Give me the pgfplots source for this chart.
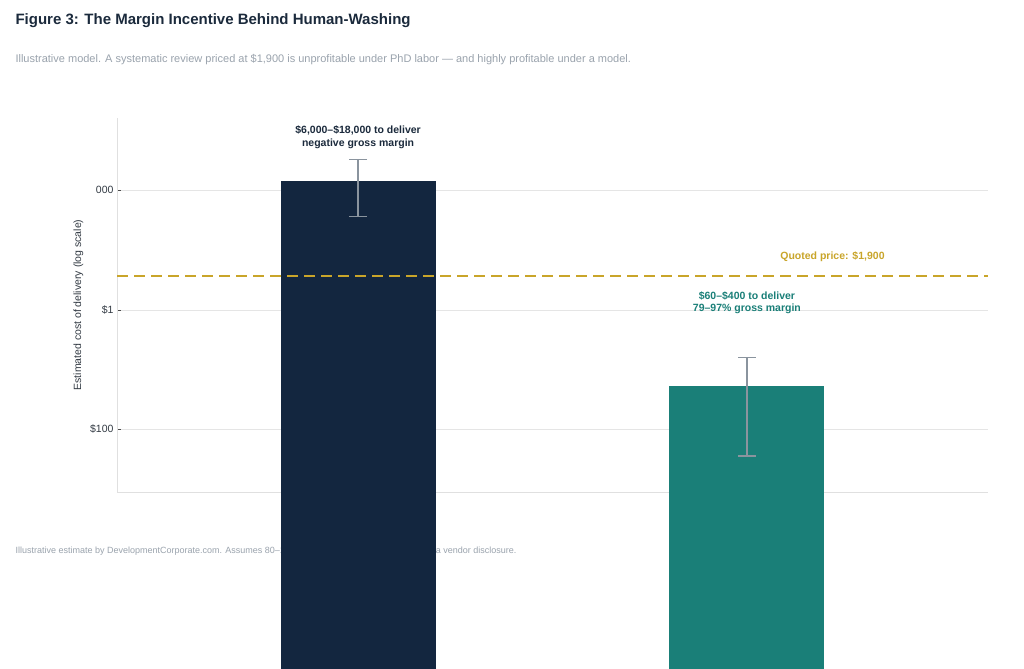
\documentclass[border=0pt]{standalone}
\usepackage{pgfplots}
\pgfplotsset{compat=1.18}
\usepackage{fontspec}
\setmainfont{Liberation Sans}
\definecolor{navy}{HTML}{13263F}
\definecolor{tealc}{HTML}{1A7F78}
\definecolor{gold}{HTML}{C9A52A}
\definecolor{ebar}{HTML}{8A949E}
\definecolor{titlec}{HTML}{1B2A3C}
\definecolor{subc}{HTML}{9AA3AD}
\definecolor{txt}{HTML}{333B44}
\begin{document}
\begin{tikzpicture}
\fill[white] (0pt,0pt) rectangle (1024pt,576pt);
\node[anchor=west,font=\fontsize{15}{18}\selectfont\bfseries,text=titlec] at (12pt,555pt) {Figure 3: The Margin Incentive Behind Human-Washing};
\node[anchor=west,font=\fontsize{11}{13}\selectfont,text=subc] at (12pt,516pt) {Illustrative model. A systematic review priced at \$1,900 is unprofitable under PhD labor — and highly profitable under a model.};
\node[anchor=west,font=\fontsize{9}{11}\selectfont,text=subc] at (12pt,25pt) {Illustrative estimate by DevelopmentCorporate.com. Assumes 80–120 analyst hours at \$75–\$150/hr. Not a vendor disclosure.};
\begin{axis}[at={(117pt,84pt)},anchor=south west,scale only axis,width=871pt,height=374pt,
  ymode=log, ymin=30, ymax=40000, xmin=-0.62, xmax=1.62,
  axis x line*=bottom, axis y line*=left,
  axis line style={draw=black!12},
  xtick={0,1}, xticklabels={Human-delivered\\(PhD methodologist),AI-delivered\\(marketed as human)},
  xticklabel style={align=center,font=\fontsize{10.5}{12}\selectfont,text=txt},
  x tick style={draw=none},
  ytick={100,1000,10000}, yticklabels={\$100,\$1,000,\$10,000},
  yticklabel style={font=\fontsize{10.5}{12}\selectfont,text=txt},
  ymajorgrids, major grid style={draw=black!10},
  y tick style={draw=black!70}, major tick length=4pt, minor tick length=2pt,
  ylabel={Estimated cost of delivery (log scale)},
  ylabel style={font=\fontsize{10.5}{12}\selectfont,text=txt},
  log basis y=10, clip=false]
\addplot[ybar, bar width=155pt, fill=navy, draw=none] coordinates {(0,12000)};
\addplot[ybar, bar width=155pt, fill=tealc, draw=none] coordinates {(1,232)};
\addplot[ebar, line width=1.3pt, mark=-, mark size=9pt, mark options={line width=1.3pt}] coordinates {(0,6000)(0,18000)};
\addplot[ebar, line width=1.3pt, mark=-, mark size=9pt, mark options={line width=1.3pt}] coordinates {(1,60)(1,400)};
\addplot[gold, line width=2.2pt, dash pattern=on 11pt off 6pt] coordinates {(-0.62,1900)(1.62,1900)};
\node[align=center,font=\fontsize{10.5}{12.5}\selectfont\bfseries,text=titlec] at (axis cs:0,27700) {\$6,000–\$18,000 to deliver\\negative gross margin};
\node[align=center,font=\fontsize{10.5}{12.5}\selectfont\bfseries,text=tealc] at (axis cs:1,1145) {\$60–\$400 to deliver\\79–97\% gross margin};
\node[font=\fontsize{10.5}{12.5}\selectfont\bfseries,text=gold] at (axis cs:1.22,2763) {Quoted price: \$1,900};
\end{axis}
\end{tikzpicture}
\end{document}
